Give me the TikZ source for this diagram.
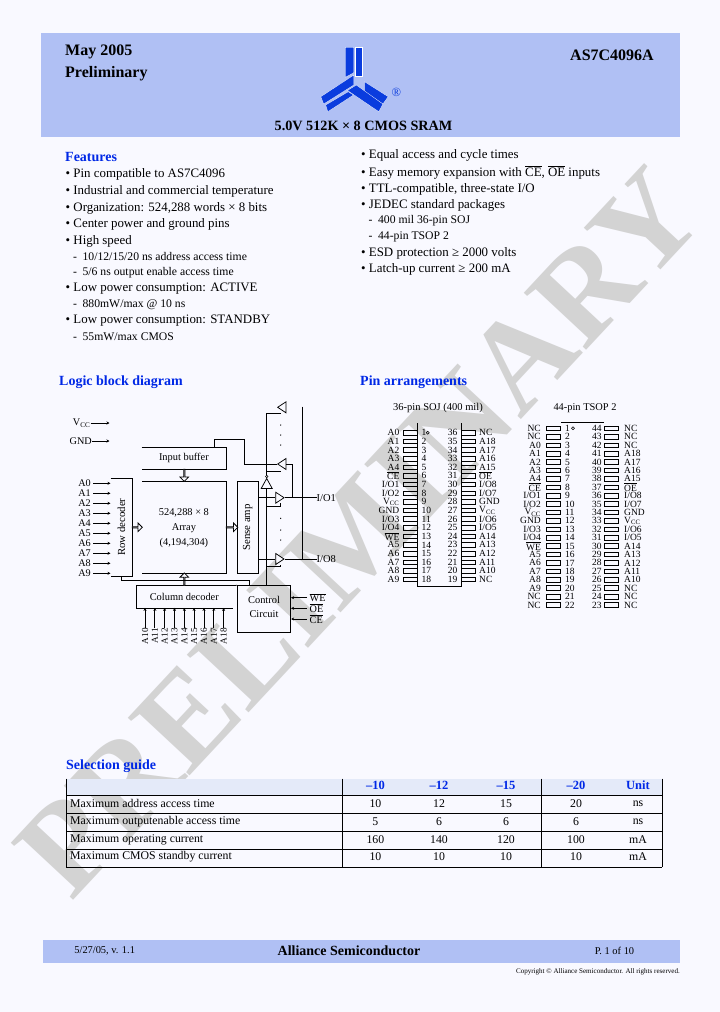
\documentclass[tikz,border=0pt]{standalone}
\usepackage{amsmath}
\usepackage{fontspec}
\setmainfont{Liberation Serif}
\usetikzlibrary{arrows.meta,shapes.geometric,shapes.arrows}

\definecolor{pagebg}{RGB}{249,249,255}
\definecolor{bandblue}{RGB}{176,192,244}
\definecolor{headfill}{RGB}{228,234,249}
\definecolor{logoblue}{RGB}{10,60,222}
\definecolor{headblue}{RGB}{0,40,230}
\definecolor{stampgray}{RGB}{211,211,211}

\newcommand{\ovl}[1]{$\overline{\mbox{#1}}$}

\tikzset{
  titletxt/.style={inner sep=0pt,font=\bfseries\fontsize{16}{18}\selectfont},
  bandtxt/.style={inner sep=0pt,font=\fontsize{10.4}{13}\selectfont},
  headtxt/.style={anchor=west,inner sep=0pt,yshift=-1pt,text=headblue,font=\bfseries\fontsize{14}{16}\selectfont},
  bodytxt/.style={anchor=west,inner sep=0pt,yshift=-1.3pt,font=\fontsize{12.9}{16}\selectfont},
  subtxt/.style={anchor=west,inner sep=0pt,yshift=-0.7pt,font=\fontsize{11.7}{14}\selectfont},
  celltxt/.style={inner sep=0pt,font=\fontsize{11.8}{14}\selectfont},
  colhead/.style={inner sep=0pt,text=headblue,font=\bfseries\fontsize{12.5}{14}\selectfont},
  blk/.style={inner sep=0pt,align=center,font=\fontsize{10.4}{15}\selectfont},
  blktxt/.style={inner sep=0pt,font=\fontsize{10.8}{13}\selectfont},
  sigtxt/.style={inner sep=0pt,font=\fontsize{10.2}{12}\selectfont},
  wire/.style={line width=0.75pt},
  sig/.style={line width=0.75pt,-{Stealth[length=3pt,width=3pt]}},
  hollow/.style={single arrow,draw,fill=pagebg,inner sep=0pt,line width=0.75pt,
    minimum width=8.5pt,single arrow head extend=2pt,single arrow head indent=0pt},
  buf/.style={isosceles triangle,isosceles triangle stretches,draw,inner sep=0pt,line width=0.75pt,
    minimum height=8.3pt,minimum width=11pt},
  pinbox/.style={draw,rectangle,inner sep=0pt,line width=0.6pt,minimum width=14.4pt,minimum height=4.6pt},
  pintxt/.style={inner sep=0pt,font=\fontsize{9.5}{11}\selectfont},
}

\begin{document}
\begin{tikzpicture}[x=1pt,y=1pt,yscale=-1,xscale=1]
\useasboundingbox (0,0) rectangle (720,1012);

%Page and bands
\fill [pagebg] (0,0) rectangle (720,1012);
\fill [bandblue] (41,33) rectangle (680,137);
\fill [bandblue] (43,940) rectangle (680,963);

% Stamp
\node [anchor=base west,inner sep=0pt,rotate=47,text=stampgray,font=\bfseries\fontsize{129}{130}\selectfont] (stamp) at (71,903) {PRELIMINARY};

% Logo
\draw [fill=logoblue,draw=white,line width=0.25pt] (345.3,47.3) -- (353.8,47.3) -- (353.8,72.7) -- (345.3,77.3) -- cycle;
\draw [fill=logoblue,draw=white,line width=0.25pt] (354.8,47.3) -- (362.4,47.3) -- (362.4,76) -- (354.8,76) -- cycle;
\draw [fill=logoblue,draw=white,line width=0.25pt] (320.8,96.7) -- (353.8,75) -- (353.8,85) -- (323.7,104) -- cycle;
\draw [fill=logoblue,draw=white,line width=0.25pt] (325.7,105) -- (348.2,91.7) -- (353.5,95) -- (327.8,111.7) -- cycle;
\draw [fill=logoblue,draw=white,line width=0.25pt] (364.5,81.7) -- (388.2,96.7) -- (382.9,104) -- (364.5,91.7) -- cycle;
\draw [fill=logoblue,draw=white,line width=0.25pt] (347.5,90.5) -- (356.3,85) -- (382.9,104) -- (378.8,111.7) -- cycle;
\node [inner sep=0pt,text=logoblue,font=\fontsize{12.5}{12}\selectfont] (regmark) at (396.3,92.7) {®};

% Text Node
\node [titletxt,anchor=west] (datetxt) at (65,52) {May 2005};
\node [titletxt,anchor=west] (prelimtxt) at (65,73.5) {Preliminary};
\node [titletxt,anchor=east] (parttxt) at (654,55.5) {AS7C4096A};
\node [inner sep=0pt,font=\bfseries\fontsize{14.2}{16}\selectfont] (subtitle) at (363.5,126) {5.0V 512K × 8 CMOS SRAM};

% Features, left
\node [headtxt] (feat) at (65,156) {Features};
\node [bodytxt] (fa) at (65.5,173.3) {• Pin compatible to AS7C4096};
\node [bodytxt] (fb) at (65.5,190) {• Industrial and commercial temperature};
\node [bodytxt] (fc) at (65.5,207) {• Organization: 524,288 words × 8 bits};
\node [bodytxt] (fd) at (65.5,223.3) {• Center power and ground pins};
\node [bodytxt] (fe) at (65.5,240) {• High speed};
\node [subtxt] (ff) at (73,256) {-\hspace{5.5pt}10/12/15/20 ns address access time};
\node [subtxt] (fg) at (73,272) {-\hspace{5.5pt}5/6 ns output enable access time};
\node [bodytxt] (fh) at (65.5,287) {• Low power consumption: ACTIVE};
\node [subtxt] (fi) at (73,304) {-\hspace{5.5pt}880mW/max @ 10 ns};
\node [bodytxt] (fj) at (65.5,319.5) {• Low power consumption: STANDBY};
\node [subtxt] (fk) at (73,336) {-\hspace{5.5pt}55mW/max CMOS};

% Features, right
\node [bodytxt] (ga) at (361,154) {• Equal access and cycle times};
\node [bodytxt] (gb) at (361,171) {• Easy memory expansion with \ovl{CE}, \ovl{OE} inputs};
\node [bodytxt] (gc) at (361,187.7) {• TTL-compatible, three-state I/O};
\node [bodytxt] (gd) at (361,204.3) {• JEDEC standard packages};
\node [subtxt] (ge) at (368.5,220.3) {-\hspace{5.5pt}400 mil 36-pin SOJ};
\node [subtxt] (gf) at (368.5,236) {-\hspace{5.5pt}44-pin TSOP 2};
\node [bodytxt] (gg) at (361,251.7) {• ESD protection ≥ 2000 volts};
\node [bodytxt] (gh) at (361,268.5) {• Latch-up current ≥ 200 mA};

% Headings
\node [headtxt] (logichead) at (59,381) {Logic block diagram};
\node [headtxt] (pinhead) at (360,381) {Pin arrangements};
\node [headtxt] (selhead) at (66,765) {Selection guide};

% Blocks of the logic diagram
\node [blk,minimum width=84.3pt,minimum height=21.7pt] (inbuf) at (183.9,458.2) {Input buffer};
\node [blk,minimum width=84.3pt,minimum height=92.3pt] (array) at (183.9,528) {524,288 × 8\\Array\\(4,194,304)};
\node [blk,minimum width=21.6pt,minimum height=97.7pt] (rowdec) at (121.5,527.2) {};
\node [blk,draw,line width=0.75pt,minimum width=21pt,minimum height=91.6pt] (sense) at (247.8,527.5) {};
\node [blk,minimum width=96pt,minimum height=22pt] (coldec) at (184.3,596.7) {Column decoder};
\node [blk,draw,line width=0.75pt,minimum width=53.4pt,minimum height=47pt] (ctrl) at (264,609.2) {};
\node [blk,font=\fontsize{10.4}{14}\selectfont] (ctrltxt) at (264,607) {Control\\Circuit};
\node [blktxt,rotate=90] (rowtxt) at (rowdec) {Row decoder};
\node [blktxt,rotate=90] (sensetxt) at (sense) {Sense amp};

\draw [wire] (inbuf.north west) -- (inbuf.north east) -- (inbuf.south east) -- (inbuf.south west);
\draw [wire] (142,481) -- (226,481) -- (226,573.3) -- (142,573.3);
\draw [wire] (rowdec.north west) -- (rowdec.north east) -- (rowdec.south east) -- (rowdec.south west);
\draw [wire] (coldec.north east) -- (coldec.north west) -- (coldec.south west) -- (coldec.south east);
\draw [wire] (coldec.north east) -- (ctrl.north west);

% Block arrows
\node [hollow,minimum height=10pt] (rowarrow) at (137,527.3) {};
\node [hollow,minimum height=11.5pt] (sensearrow) at (231.7,527.3) {};
\node [hollow,minimum height=12pt,rotate=270] (inarrow) at (184.3,475) {};
\node [hollow,minimum height=12.4pt,rotate=90] (colarrow) at (184.3,579.5) {};

% Buffers
\node [buf,shape border rotate=180,anchor=apex] (btop) at (276.7,407.3) {};
\node [buf,shape border rotate=180,anchor=apex] (bmid) at (276.7,464) {};
\node [buf,shape border rotate=90,anchor=apex,minimum height=10pt] (bup) at (266.7,477.5) {};
\node [buf,anchor=apex] (bone) at (285,497.7) {};
\node [buf,anchor=apex] (beight) at (285,559) {};
\node [circle,draw,fill=white,inner sep=0pt,minimum size=2.4pt,line width=0.5pt] (bupdot) at (266.7,476.5) {};

% Supply inputs
\node [sigtxt,anchor=east] (vcc) at (90.5,423) {V\textsubscript{CC}};
\node [sigtxt,anchor=east] (gnd) at (92,441) {GND};
\coordinate (vccend) at (109.5,423);
\coordinate (gndend) at (109.5,441);
\draw [sig] (vcc) -- (vccend);
\draw [sig] (gnd) -- (gndend);

% Row addresses
\foreach \i in {0,...,9} {
  \node [sigtxt,anchor=east] (addr\i) at (91,{483.3+10*\i}) {A\i};
  \draw [sig] (addr\i.east) ++(2,0) -- (rowdec.west |- addr\i.east);
}

% Column addresses
\foreach \i in {0,...,8} {
  \pgfmathtruncatemacro{\n}{10+\i}
  \node [sigtxt,rotate=90,anchor=east,font=\fontsize{9.2}{10}\selectfont] (caddr\i) at ({145+9.83*\i},628) {A\n};
  \draw [sig] (caddr\i.east) -- (caddr\i.east |- coldec.south);
}

% Control inputs
\node [sigtxt,anchor=west] (wepin) at (309.5,597.7) {\ovl{WE}};
\node [sigtxt,anchor=west] (oepin) at (309.5,608.3) {\ovl{OE}};
\node [sigtxt,anchor=west] (cepin) at (309.5,619) {\ovl{CE}};
\draw [sig] (wepin.west) ++(-2.5,0) -- (ctrl.east |- wepin.west);
\draw [sig] (oepin.west) ++(-2.5,0) -- (ctrl.east |- oepin.west);
\draw [sig] (cepin.west) ++(-2.5,0) -- (ctrl.east |- cepin.west);

% I/O
\node [sigtxt,anchor=west,font=\fontsize{10.5}{13}\selectfont] (ioa) at (316.5,497.7) {I/O1};
\node [sigtxt,anchor=west,font=\fontsize{10.5}{13}\selectfont] (iob) at (316.5,559) {I/O8};
\coordinate (bustop) at (302.3,406.7);
\coordinate (busend) at (302.3,559);
\coordinate (junone) at (292.3,497.7);
\coordinate (ctrljoin) at (249.3,580);
\coordinate (loopa) at (244.3,439.3);
\coordinate (loopb) at (214.3,439.3);

\draw [wire] (bone.apex) -- (ioa.west);
\draw [wire] (beight.apex) -- (iob.west);
\draw [wire] (bustop) -- (busend);
\draw [wire] (bmid.lower side) -| (junone);
\draw [wire] (bmid.apex) -| (loopa) -- (loopb) -- (loopb |- inbuf.north);
\draw [wire] (sense.east |- bone.apex) -- (bone.lower side);
\draw [wire] (sense.east |- beight.apex) -- (beight.lower side);
\draw [wire] (bup.lower side) -- (bup.lower side |- ctrl.north);
\draw [wire] (bupdot.north) |- (280.8,413);
\draw [wire] (266.7,471) -- (280.8,471);
\draw [wire] (266.7,506.7) -- (280.8,506.7) -- (280.8,503);
\draw [wire] (266.7,566.7) -- (280.8,566.7) -- (280.8,564.5);
\draw [wire] (rowdec.south) |- (ctrljoin) -- (ctrljoin |- ctrl.north);

% Dots
\foreach \y in {425,435,445,518.3,530,540} {
  \fill (280.7,\y) circle (0.7);
}

% 36-pin package
\node [pintxt,font=\fontsize{10.5}{12}\selectfont] (sojtitle) at (438,408) {36-pin SOJ (400 mil)};
\node [minimum width=43pt,minimum height=163pt,inner sep=0pt] (soj) at (439.2,504.8) {};
\draw [wire] (soj.north west) -- (soj.south west) -- (soj.south east) -- (soj.north east);
\node [circle,draw,inner sep=0pt,minimum size=3pt,line width=0.5pt] (sojdot) at (427.7,432.7) {};
\foreach \lab [count=\n] in {A0,A1,A2,A3,A4,\ovl{CE},I/O1,I/O2,V\textsubscript{CC},GND,I/O3,I/O4,\ovl{WE},A5,A6,A7,A8,A9} {
  \node [pinbox,anchor=east] (sl\n) at (417.7,{432.7+8.63*(\n-1)}) {};
  \node [pintxt,anchor=east] (slt\n) at (399.5,{432.7+8.63*(\n-1)}) {\lab};
  \node [pintxt,anchor=west] (sln\n) at (421.5,{432.7+8.63*(\n-1)}) {\n};
}
\foreach \lab [count=\n] in {NC,A18,A17,A16,A15,\ovl{OE},I/O8,I/O7,GND,V\textsubscript{CC},I/O6,I/O5,A14,A13,A12,A11,A10,NC} {
  \pgfmathtruncatemacro{\m}{37-\n}
  \node [pinbox,anchor=west] (sr\n) at (460.7,{432.7+8.63*(\n-1)}) {};
  \node [pintxt,anchor=west] (srt\n) at (479,{432.7+8.63*(\n-1)}) {\lab};
  \node [pintxt,anchor=east] (srn\n) at (457.5,{432.7+8.63*(\n-1)}) {\m};
}

% 44-pin package
\node [pintxt,font=\fontsize{10.4}{12}\selectfont] (tsoptitle) at (585,408) {44-pin TSOP 2};
\node [minimum width=43pt,minimum height=185pt,inner sep=0pt] (tsop) at (582.5,514.8) {};
\draw [wire] (tsop.north west) -- (tsop.north east);
\node [circle,draw,inner sep=0pt,minimum size=3pt,line width=0.5pt] (tsopdot) at (573,428.3) {};
\foreach \lab [count=\n] in {NC,NC,A0,A1,A2,A3,A4,\ovl{CE},I/O1,I/O2,V\textsubscript{CC},GND,I/O3,I/O4,\ovl{WE},A5,A6,A7,A8,A9,NC,NC} {
  \node [pinbox,anchor=east] (tl\n) at (561,{428.3+8.41*(\n-1)}) {};
  \node [pintxt,anchor=east] (tlt\n) at (541,{428.3+8.41*(\n-1)}) {\lab};
  \node [pintxt,anchor=west] (tln\n) at (565,{428.3+8.41*(\n-1)}) {\n};
}
\foreach \lab [count=\n] in {NC,NC,NC,A18,A17,A16,A15,\ovl{OE},I/O8,I/O7,GND,V\textsubscript{CC},I/O6,I/O5,A14,A13,A12,A11,A10,NC,NC,NC} {
  \pgfmathtruncatemacro{\m}{45-\n}
  \node [pinbox,anchor=west] (tr\n) at (604,{428.3+8.41*(\n-1)}) {};
  \node [pintxt,anchor=west] (trt\n) at (624,{428.3+8.41*(\n-1)}) {\lab};
  \node [pintxt,anchor=east] (trn\n) at (601.7,{428.3+8.41*(\n-1)}) {\m};
}

% Selection table
\fill [headfill] (66,778.5) rectangle (662,795);
\foreach \y in {795,813.3,831,849,867} {
  \draw [wire] (66,\y) -- (662,\y);
}
\foreach \x in {66,342.5,541.5,662} {
  \draw [wire] (\x,778.5) -- (\x,867);
}
\foreach \x/\lab/\nm in {375.4/--10/a,439/--12/b,506/--15/c,576/--20/d,638/Unit/e} {
  \node [colhead] (hd\nm) at (\x,785.5) {\lab};
}
\foreach \y/\lab/\va/\vb/\vc/\vd/\un/\nm in {
  803.5/Maximum address access time/10/12/15/20/ns/a,
  821.5/Maximum outputenable access time/5/6/6/6/ns/b,
  839.5/Maximum operating current/160/140/120/100/mA/c,
  857/Maximum CMOS standby current/10/10/10/10/mA/d} {
  \node [celltxt,anchor=west] (row\nm) at (70,\y) {\lab};
  \node [celltxt] (row\nm a) at (375.4,\y) {\va};
  \node [celltxt] (row\nm b) at (439,\y) {\vb};
  \node [celltxt] (row\nm c) at (506,\y) {\vc};
  \node [celltxt] (row\nm d) at (576,\y) {\vd};
  \node [celltxt] (row\nm e) at (638,\y) {\un};
}

% Footer
\node [bandtxt] (dateline) at (104.7,951) {5/27/05, v. 1.1};
\node [inner sep=0pt,font=\bfseries\fontsize{14}{16}\selectfont] (maker) at (349,951) {Alliance Semiconductor};
\node [bandtxt] (pageno) at (614.5,951) {P. 1 of 10};
\node [inner sep=0pt,anchor=east,font=\fontsize{7.05}{9}\selectfont] (copyline) at (680,972) {Copyright © Alliance Semiconductor. All rights reserved.};

\end{tikzpicture}
\end{document}
